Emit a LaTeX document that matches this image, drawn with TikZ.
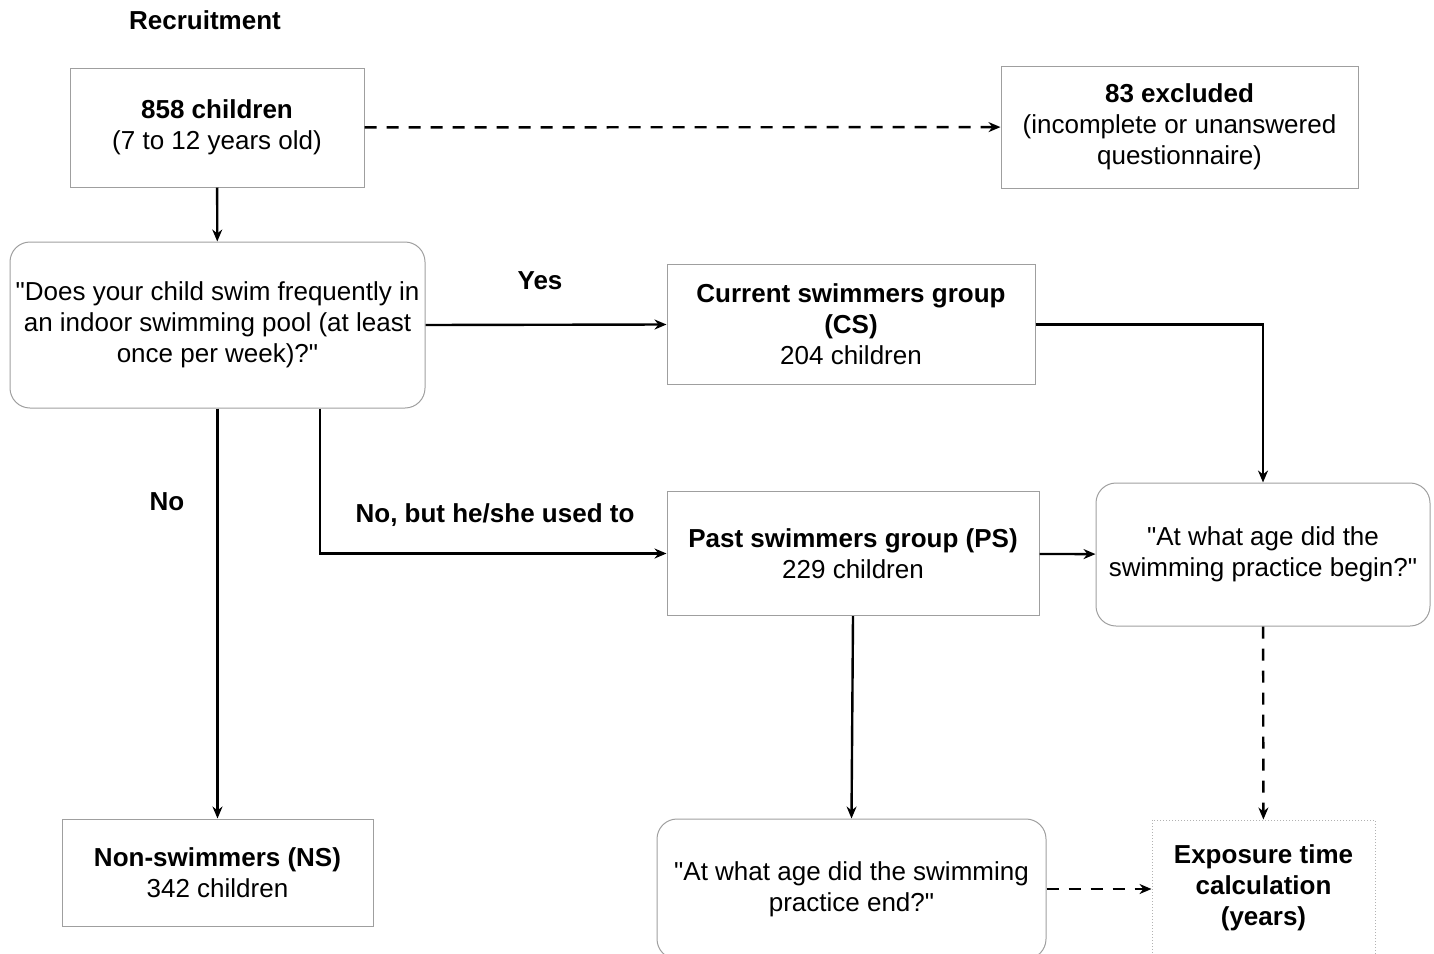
\documentclass[tikz,border=0pt]{standalone}
\usepackage{fontspec}
\setmainfont{Liberation Sans}
\usetikzlibrary{arrows.meta}

\begin{document}
\begin{tikzpicture}[x=0.5pt, y=-0.5pt,
    font=\fontsize{13}{15.5}\selectfont,
    box/.style={draw=gray!75, line width=0.5pt, align=center, inner sep=0pt},
    qbox/.style={box, rounded corners=10pt},
    flow/.style={-{Stealth[length=6pt, width=5pt]}, line width=1.2pt},
    flowdash/.style={flow, dash pattern=on 6pt off 5pt}]
        \useasboundingbox (0, 0) rectangle (1434, 953);

        \coordinate (Ptop) at (217, 127.5);
        \coordinate (Pexcl) at (1179.5, 127);
        \coordinate (Pq) at (217.5, 325);
        \coordinate (Pcs) at (851, 324.5);
        \coordinate (Pps) at (853, 553.5);
        \coordinate (Pbegin) at (1263, 554.5);
        \coordinate (Pns) at (217.5, 872.5);
        \coordinate (Pend) at (851.5, 889);
        \coordinate (Pexpo) at (1263.5, 888);

        \node[font=\fontsize{13}{15.5}\selectfont\bfseries] (recruit) at (205, 20) {Recruitment};

        \node[box, minimum width=147pt, minimum height=59.5pt] (total) at (Ptop)
            {\textbf{858 children}\\(7 to 12 years old)};
        \node[box, minimum width=178.5pt, minimum height=61pt] (excl) at (Pexcl)
            {\textbf{83 excluded}\\(incomplete or unanswered\\questionnaire)};
        \node[qbox, minimum width=207.5pt, minimum height=83pt] (question) at (Pq)
            {\textquotedbl Does your child swim frequently in\\an indoor swimming pool (at least\\once per week)?\textquotedbl};
        \node[box, minimum width=184pt, minimum height=60pt] (cs) at (Pcs)
            {\textbf{Current swimmers group}\\\textbf{(CS)}\\204 children};
        \node[box, minimum width=186pt, minimum height=62pt] (ps) at (Pps)
            {\textbf{Past swimmers group (PS)}\\229 children};
        \node[qbox, minimum width=167pt, minimum height=71.5pt] (begin) at (Pbegin)
            {\textquotedbl At what age did the\\swimming practice begin?\textquotedbl};
        \node[box, minimum width=155.5pt, minimum height=53.5pt] (ns) at (Pns)
            {\textbf{Non-swimmers (NS)}\\342 children};
        \node[qbox, minimum width=194.5pt, minimum height=70pt] (end) at (Pend)
            {\textquotedbl At what age did the swimming\\practice end?\textquotedbl};
        \node[box, draw=gray!60, densely dotted, minimum width=111.5pt, minimum height=68pt] (expo) at (Pexpo)
            {\textbf{Exposure time}\\\textbf{calculation}\\\textbf{(years)}};

        % connectors
        \draw[flow] (total) -- (question);
        \draw[flowdash] (total) -- (excl);
        \draw[flow] (question.east) -- (cs.west);
        \draw[flow] (cs.east) -| (begin.north);
        \draw[flow] ([xshift=51.25pt]question.south) |- (ps.west);
        \draw[flow] (question.south) -- (ns.north);
        \draw[flow] (ps) -- (begin);
        \draw[flow] (ps.south) -- (end.north);
        \draw[flowdash] (begin) -- (expo);
        \draw[flowdash] (end.east) -- (end.east -| expo.west);

        \node[font=\fontsize{13}{15.5}\selectfont\bfseries] (yes) at (540, 281) {Yes};
        \node[font=\fontsize{13}{15.5}\selectfont\bfseries] (no) at (167, 502) {No};
        \node[font=\fontsize{13}{15.5}\selectfont\bfseries] (used) at (495, 515) {No, but he/she used to};

    \end{tikzpicture}
\end{document}
